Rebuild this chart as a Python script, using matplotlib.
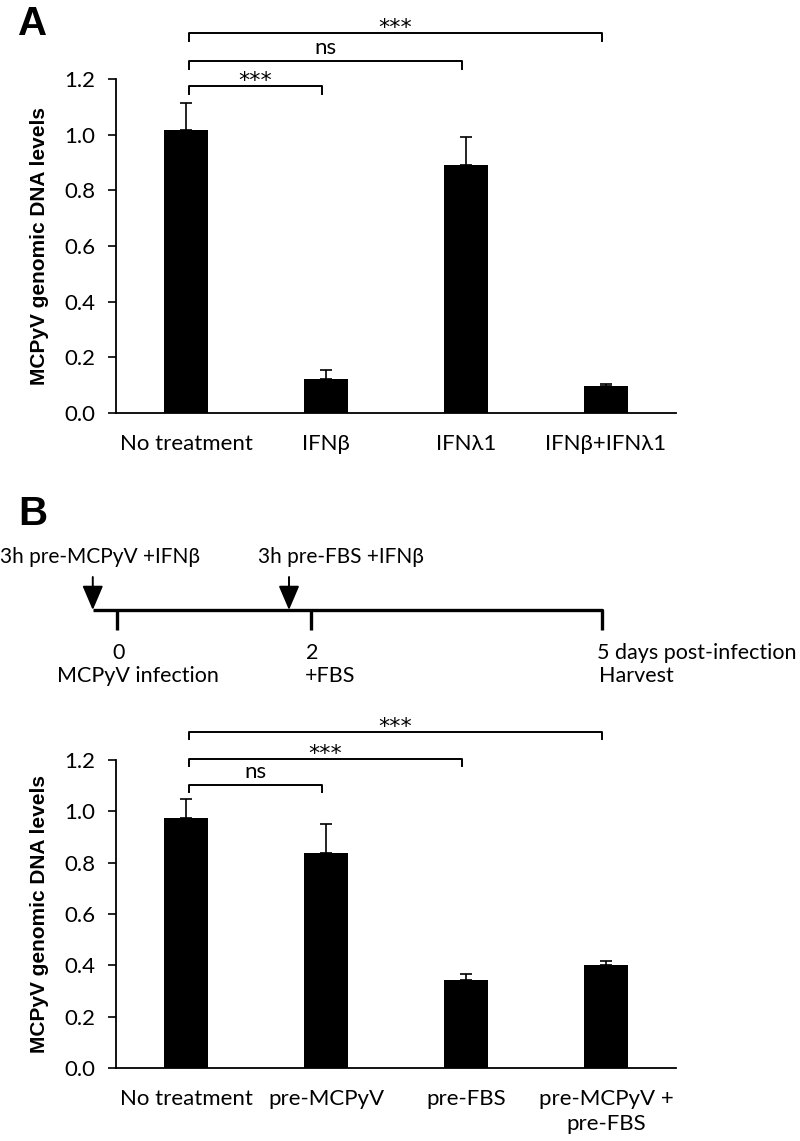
import matplotlib
matplotlib.use("Agg")
import matplotlib.pyplot as plt
from matplotlib.ticker import FormatStrFormatter
import numpy as np

plt.rcParams["font.family"] = ["Lato", "DejaVu Sans"]
plt.rcParams["font.size"] = 16

# panel A data
cats_a = ["No treatment", "IFN\u03b2", "IFN\u03bb1", "IFN\u03b2+IFN\u03bb1"]
vals_a = [1.015, 0.122, 0.891, 0.097]
errs_a = [0.100, 0.033, 0.100, 0.007]
# (from, to, height, label)
sig_a = [(0, 1, 1.175, "***"), (0, 2, 1.265, "ns"), (0, 3, 1.365, "***")]

# panel B data
cats_b = ["No treatment", "pre-MCPyV", "pre-FBS", "pre-MCPyV +\npre-FBS"]
vals_b = [0.973, 0.836, 0.343, 0.400]
errs_b = [0.077, 0.116, 0.022, 0.018]
sig_b = [(0, 1, 1.102, "ns"), (0, 2, 1.204, "***"), (0, 3, 1.310, "***")]

# timeline (days)
tl_days = [0, 2, 5]
tl_nums = ["0", "2", "5 days post-infection"]
tl_caps = ["MCPyV infection", "+FBS", "Harvest"]
tl_cap_x = [-0.62, 1.94, 4.97]
arrow_days = [-0.25, 1.775]
arrow_labels = ["3h pre-MCPyV +IFN\u03b2", "3h pre-FBS +IFN\u03b2"]
arrow_label_x = [-1.207, 1.455]

W, H = 800, 1141
fig = plt.figure(figsize=(W / 100, H / 100), dpi=100)


def bar_panel(ax, cats, vals, errs, sigs, drop):
    x = np.arange(len(cats))
    ax.bar(x, vals, width=0.32, color="black", zorder=2)
    ax.errorbar(x, vals, yerr=[np.zeros(len(errs)), errs], fmt="none",
                ecolor="black", elinewidth=1.2, capsize=4, capthick=1.2, zorder=3)
    ax.set_xlim(-0.5, len(cats) - 0.5)
    ax.set_ylim(0, 1.2)
    ax.set_yticks(np.arange(0, 1.21, 0.2))
    ax.yaxis.set_major_formatter(FormatStrFormatter("%.1f"))
    ax.set_xticks(x)
    ax.set_xticklabels(cats, linespacing=1.3)
    ax.tick_params(axis="x", length=0, pad=15)
    ax.tick_params(axis="y", direction="out", length=6, width=1.2, pad=9)
    for s in ["top", "right"]:
        ax.spines[s].set_visible(False)
    for s in ["left", "bottom"]:
        ax.spines[s].set_linewidth(1.3)
    for i, j, h, lab in sigs:
        x1, x2 = i + 0.02, j - 0.03
        ax.plot([x1, x1, x2, x2], [h - drop, h, h, h - drop], color="black",
                lw=1.4, clip_on=False)
        if lab.startswith("*"):
            ax.annotate(lab, ((x1 + x2) / 2, h), xytext=(0, -1),
                        textcoords="offset points", ha="center", va="baseline",
                        fontsize=16, family="DejaVu Sans", annotation_clip=False)
        else:
            ax.annotate(lab, ((x1 + x2) / 2, h), xytext=(0, 5),
                        textcoords="offset points", ha="center", va="baseline",
                        annotation_clip=False)


ax_a = fig.add_axes([116 / W, 1 - 413 / H, 560 / W, 334 / H])
bar_panel(ax_a, cats_a, vals_a, errs_a, sig_a, 0.029)
ax_b = fig.add_axes([116 / W, 1 - 1068 / H, 560 / W, 308 / H])
bar_panel(ax_b, cats_b, vals_b, errs_b, sig_b, 0.027)

ylab = "MCPyV genomic DNA levels"
fig.text(40 / W, 1 - 246 / H, ylab, rotation=90, ha="center", va="center",
         fontsize=15, fontweight="bold", family=["Liberation Sans", "DejaVu Sans"])
fig.text(40 / W, 1 - 914 / H, ylab, rotation=90, ha="center", va="center",
         fontsize=15, fontweight="bold", family=["Liberation Sans", "DejaVu Sans"])

fig.text(18 / W, 1 - 35 / H, "A", fontsize=29, fontweight="bold", va="baseline",
         family=["Liberation Sans", "DejaVu Sans"])
fig.text(18 / W, 1 - 525 / H, "B", fontsize=29, fontweight="bold", va="baseline",
         family=["Liberation Sans", "DejaVu Sans"])

# timeline, y in pixel rows of the figure
ax_t = fig.add_axes([0, 1 - 700 / H, 1, 170 / H])
ax_t.set_xlim(-117 / 96.9, (W - 117) / 96.9)
ax_t.set_ylim(700, 530)
ax_t.axis("off")
ax_t.plot([arrow_days[0], tl_days[-1], tl_days[-1]], [610, 610, 630],
          color="black", lw=2.4, solid_joinstyle="round", solid_capstyle="butt")
for d in tl_days[:-1]:
    ax_t.plot([d, d], [610, 630], color="black", lw=2.4, solid_capstyle="butt")
for d, n, c, cx in zip(tl_days, tl_nums, tl_caps, tl_cap_x):
    ax_t.text(d - 0.05, 653, n, ha="left", va="center", fontsize=15.5)
    ax_t.text(cx, 676, c, ha="left", va="center", fontsize=15.5)
for d, lab, lx in zip(arrow_days, arrow_labels, arrow_label_x):
    ax_t.annotate("", xy=(d, 610), xytext=(d, 577),
                  arrowprops=dict(arrowstyle="-|>,head_length=0.75,head_width=0.32",
                                  color="black", lw=1.4, shrinkA=0, shrinkB=0,
                                  mutation_scale=20))
    ax_t.text(lx, 557, lab, ha="left", va="center", fontsize=15)

fig.savefig("out.png", dpi=100)
